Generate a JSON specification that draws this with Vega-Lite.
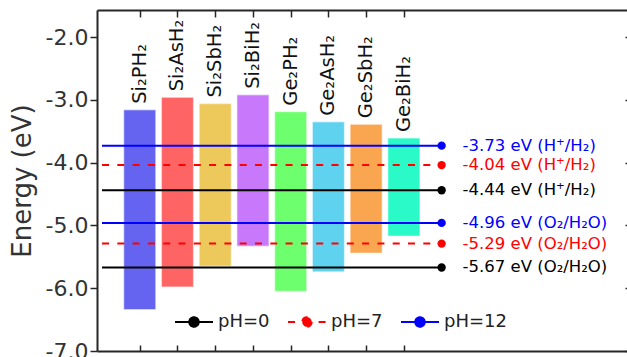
{
  "$schema": "https://vega.github.io/schema/vega-lite/v6.json",
  "width": 530,
  "height": 341,
  "autosize": {"type": "none"},
  "padding": {"left": 97, "top": 10, "right": 0, "bottom": 6},
  "background": "white",
  "config": {
    "view": {"stroke": null},
    "font": "DejaVu Sans",
    "axis": {"grid": false, "domainColor": "#262626", "domainWidth": 2, "tickColor": "#262626", "tickWidth": 1.5}
  },
  "datasets": {
    "bars": [
      {"pos": 1, "material": "Si₂PH₂", "top": -3.16, "bottom": -6.34},
      {"pos": 2, "material": "Si₂AsH₂", "top": -2.96, "bottom": -5.98},
      {"pos": 3, "material": "Si₂SbH₂", "top": -3.06, "bottom": -5.65},
      {"pos": 4, "material": "Si₂BiH₂", "top": -2.92, "bottom": -5.33},
      {"pos": 5, "material": "Ge₂PH₂", "top": -3.19, "bottom": -6.05},
      {"pos": 6, "material": "Ge₂AsH₂", "top": -3.35, "bottom": -5.74},
      {"pos": 7, "material": "Ge₂SbH₂", "top": -3.39, "bottom": -5.44},
      {"pos": 8, "material": "Ge₂BiH₂", "top": -3.61, "bottom": -5.17}
    ],
    "refs": [
      {"pH": "pH=12", "energy": -3.73, "label": "-3.73 eV (H⁺/H₂)"},
      {"pH": "pH=7", "energy": -4.04, "label": "-4.04 eV (H⁺/H₂)"},
      {"pH": "pH=0", "energy": -4.44, "label": "-4.44 eV (H⁺/H₂)"},
      {"pH": "pH=12", "energy": -4.96, "label": "-4.96 eV (O₂/H₂O)"},
      {"pH": "pH=7", "energy": -5.29, "label": "-5.29 eV (O₂/H₂O)"},
      {"pH": "pH=0", "energy": -5.67, "label": "-5.67 eV (O₂/H₂O)"}
    ]
  },
  "layer": [
    {
      "data": {"name": "bars"},
      "mark": {"type": "bar", "width": 32, "stroke": "white", "strokeOpacity": 0.45, "strokeWidth": 1.2},
      "encoding": {
        "x": {"field": "pos", "type": "quantitative", "scale": {"domain": [0, 13.78], "nice": false, "zero": false},
          "axis": {"orient": "bottom", "values": [1,2,3,4,5,6,7,8], "labels": false, "title": null, "tickSize": -6}},
        "y": {"field": "top", "type": "quantitative", "scale": {"domain": [-7, -1.57], "nice": false, "zero": false},
          "axis": {"orient": "left", "values": [-7,-6,-5,-4,-3,-2], "labelExpr": "replace(format(datum.value, '.1f'), '−', '-')",
            "labelFontSize": 22, "labelColor": "#333333", "labelPadding": 2, "tickSize": 7,
            "title": "Energy (eV)", "titleFontSize": 26, "titleFontWeight": "normal", "titleColor": "#333333", "titlePadding": 10}},
        "y2": {"field": "bottom"},
        "fill": {"field": "material", "type": "nominal", "legend": null,
          "scale": {"domain": ["Si₂PH₂","Si₂AsH₂","Si₂SbH₂","Si₂BiH₂","Ge₂PH₂","Ge₂AsH₂","Ge₂SbH₂","Ge₂BiH₂"],
            "range": ["#6464F0","#FF6464","#EDC85A","#C878FA","#6EFF6E","#5FD2F0","#FAA550","#2AFAC8"]}}
      }
    },
    {
      "data": {"name": "bars"},
      "mark": {"type": "text", "angle": 270, "align": "left", "baseline": "middle", "dx": 6, "fontSize": 19.5, "color": "#111111"},
      "encoding": {
        "x": {"field": "pos", "type": "quantitative", "axis": {"orient": "top", "values": [1,2,3,4,5,6,7,8], "labels": false, "title": null, "tickSize": -7}},
        "y": {"field": "top", "type": "quantitative", "axis": {"orient": "right", "values": [-7,-6,-5,-4,-3,-2], "labels": false, "title": null, "domain": false, "tickSize": -2}},
        "text": {"field": "material"}
      }
    },
    {
      "data": {"name": "refs"},
      "mark": {"type": "rule", "strokeWidth": 2},
      "encoding": {
        "x": {"datum": 0, "type": "quantitative", "axis": null},
        "x2": {"datum": 9},
        "y": {"field": "energy", "type": "quantitative", "axis": null},
        "color": {"field": "pH", "type": "nominal",
          "scale": {"domain": ["pH=0","pH=7","pH=12"], "range": ["#000000","#FF0000","#0000FF"]},
          "legend": {"title": null, "orient": "none", "direction": "horizontal", "legendX": 77, "legendY": 292,
            "symbolType": "M-1,0L1,0M0.25,0A0.25,0.25 0 1 1 -0.25,0A0.25,0.25 0 1 1 0.25,0Z",
            "symbolSize": 1444, "symbolStrokeWidth": 2, "labelFontSize": 18, "labelColor": "#222222", "labelOffset": 4,
            "columnPadding": 14, "padding": 0, "labelFont": "DejaVu Sans",
            "encode": {"symbols": {"update": {"fill": {"scale": "color", "field": "value"}, "fillOpacity": {"value": 1}}}}}},
        "strokeDash": {"field": "pH", "type": "nominal",
          "scale": {"domain": ["pH=0","pH=7","pH=12"], "range": [[1,0],[7,8.3],[1,0]]}}
      }
    },
    {
      "data": {"name": "refs"},
      "mark": {"type": "point", "filled": true, "size": 70, "opacity": 1},
      "encoding": {
        "x": {"datum": 9, "type": "quantitative", "axis": null},
        "y": {"field": "energy", "type": "quantitative", "axis": null},
        "color": {"field": "pH", "type": "nominal"}
      }
    },
    {
      "data": {"name": "refs"},
      "mark": {"type": "text", "align": "left", "baseline": "middle", "dx": 21, "fontSize": 16.5},
      "encoding": {
        "x": {"datum": 9, "type": "quantitative", "axis": null},
        "y": {"field": "energy", "type": "quantitative", "axis": null},
        "text": {"field": "label"},
        "color": {"field": "pH", "type": "nominal"}
      }
    }
  ],
  "resolve": {"axis": {"x": "independent", "y": "independent"}}
}
